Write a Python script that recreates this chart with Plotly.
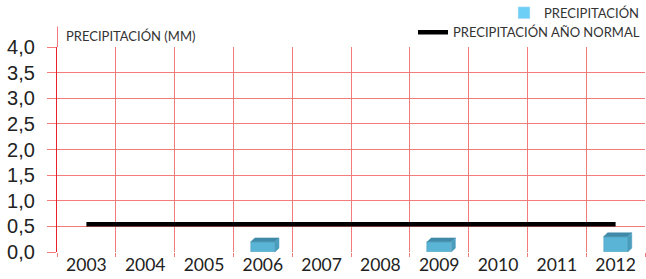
import plotly.graph_objects as go

years = ["2003", "2004", "2005", "2006", "2007", "2008", "2009", "2010", "2011", "2012"]
precip = [None, None, None, 0.2, None, None, 0.2, None, None, 0.3]
normal = [0.54] * 10
y_ticks = [0.0, 0.5, 1.0, 1.5, 2.0, 2.5, 3.0, 3.5, 4.0]

xs = list(range(len(years)))
bw = 0.41
dx, dy = 0.07, 0.075
front, topc, sidec = "#5ab4d6", "#3f8aa8", "#4b9dbd"
grid = "#f27c7c"

fig = go.Figure()
fig.add_trace(go.Bar(x=xs, y=precip, width=bw, marker=dict(color=front, line=dict(color="#4a9cbc", width=0.5)),
                     name="PRECIPITACIÓN", showlegend=False))
# legend swatch for the bar series (lighter blue as in the source legend)
fig.add_trace(go.Bar(x=[None], y=[None], marker=dict(color="#6dcff6"), name="PRECIPITACIÓN", legend="legend"))
# pseudo-3D faces computed from values
for x, v in zip(xs, precip):
    if v is None:
        continue
    l, r = x - bw / 2, x + bw / 2
    fig.add_trace(go.Scatter(x=[l, l + dx, r + dx, r, l], y=[v, v + dy, v + dy, v, v], fill="toself",
                             fillcolor=topc, line=dict(color=topc, width=0.5), mode="lines",
                             showlegend=False, hoverinfo="skip"))
    fig.add_trace(go.Scatter(x=[r, r + dx, r + dx, r, r], y=[v, v + dy, dy, 0, v], fill="toself",
                             fillcolor=sidec, line=dict(color=sidec, width=0.5), mode="lines",
                             showlegend=False, hoverinfo="skip"))
fig.add_trace(go.Scatter(x=xs, y=normal, mode="lines", line=dict(color="black", width=4.5),
                         name="PRECIPITACIÓN AÑO NORMAL", legend="legend2"))

fig.update_layout(
    width=646, height=279,
    margin=dict(l=57, r=1, t=47, b=27, autoexpand=False),
    plot_bgcolor="white", paper_bgcolor="white",
    separators=",.",
    bargap=0, barmode="overlay",
    legend=dict(x=1, xanchor="right", y=1.24, yanchor="top", bgcolor="rgba(0,0,0,0)",
                font=dict(family="Lato, Open Sans", size=13, color="#333"), itemwidth=30,
                tracegroupgap=0),
    legend2=dict(x=1, xanchor="right", y=1.145, yanchor="top", bgcolor="rgba(0,0,0,0)",
                 font=dict(family="Lato, Open Sans", size=13, color="#333"), itemwidth=30),
    annotations=[dict(text="PRECIPITACIÓN (MM)", xref="paper", yref="paper", x=0.012, y=1.0,
                      xanchor="left", yanchor="bottom", yshift=1, showarrow=False,
                      font=dict(family="Lato, Open Sans", size=13, color="#333"))],
    shapes=[dict(type="line", xref="x", yref="paper", x0=-0.5, x1=-0.5, y0=1, y1=1.1,
                 line=dict(color="#e8202a", width=1.2))],
)
fig.update_xaxes(range=[-0.5, 9.5], tickvals=xs, ticktext=years, showgrid=False, ticks="",
                 tickfont=dict(family="Lato, Open Sans", size=17.5, color="#222"),
                 ticklabelstandoff=0,
                 minor=dict(tickvals=[i - 0.5 for i in range(11)], showgrid=True, gridcolor=grid,
                            gridwidth=1, ticks="outside", ticklen=4, tickcolor=grid),
                 showline=False, zeroline=False, fixedrange=True)
fig.update_yaxes(range=[0, 4.0], tickvals=y_ticks, tickformat=".1f", showgrid=True, gridcolor=grid,
                 gridwidth=1.3, ticks="outside", ticklen=9, tickcolor=grid, zeroline=False,
                 ticklabelstandoff=8,
                 tickfont=dict(family="Liberation Sans, Arial", size=20, color="#222"),
                 showline=True, linecolor="#e8202a", linewidth=1.2, mirror=False)
fig.write_html("out.html", config={"displayModeBar": False},
               post_script="document.body.style.margin='0';document.body.style.overflow='hidden';")
